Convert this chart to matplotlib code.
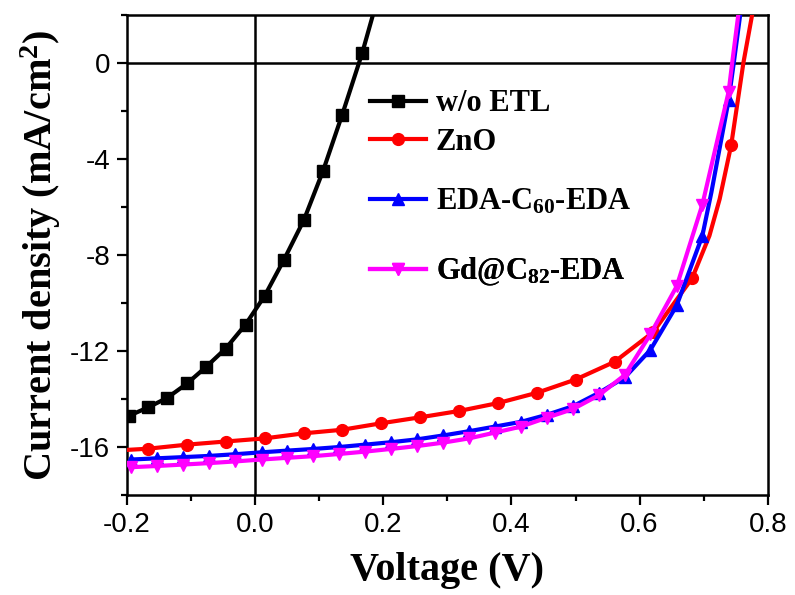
import matplotlib
matplotlib.use("Agg")
import matplotlib.pyplot as plt
from matplotlib.ticker import MultipleLocator

# J-V data (V in volts, J in mA/cm2)
# w/o ETL: marker points
bare_v = [-0.197, -0.167, -0.137, -0.106, -0.076, -0.046, -0.015, 0.015, 0.045, 0.076, 0.106, 0.136, 0.167]
bare_j = [-14.70, -14.35, -13.95, -13.35, -12.65, -11.90, -10.90, -9.70, -8.20, -6.55, -4.50, -2.15, 0.40]
# line only points (no marker)
bare_line_v = [0.186]
bare_line_j = [2.2]

# ZnO
zno_v = [-0.167, -0.106, -0.046, 0.015, 0.076, 0.136, 0.197, 0.258, 0.318, 0.379, 0.440, 0.500, 0.561, 0.621, 0.682, 0.743]
zno_j = [-16.07, -15.90, -15.77, -15.64, -15.43, -15.28, -15.01, -14.76, -14.50, -14.17, -13.74, -13.19, -12.45, -11.22, -8.97, -3.42]
zno_line_v = [-0.200, 0.709, 0.725, 0.762, 0.777]
zno_line_j = [-16.12, -7.20, -5.67, 0.00, 2.20]

# EDA-C60-EDA and Gd@C82-EDA share the same voltage points
grid_v = [-0.193, -0.153, -0.112, -0.072, -0.031, 0.010, 0.050, 0.091, 0.131, 0.172, 0.212, 0.253,
          0.293, 0.334, 0.374, 0.415, 0.455, 0.496, 0.536, 0.577, 0.617, 0.658, 0.698, 0.739]
eda_j = [-16.52, -16.47, -16.42, -16.37, -16.30, -16.22, -16.15, -16.08, -16.00, -15.90, -15.80, -15.68,
         -15.52, -15.34, -15.15, -14.95, -14.66, -14.30, -13.75, -13.10, -11.95, -10.10, -7.20, -1.55]
eda_line_v = [0.712, 0.747, 0.758]
eda_line_j = [-5.40, 0.00, 2.20]

gd_j = [-16.84, -16.79, -16.73, -16.67, -16.60, -16.52, -16.45, -16.38, -16.29, -16.19, -16.08, -15.96,
        -15.82, -15.64, -15.40, -15.15, -14.78, -14.42, -13.85, -13.00, -11.30, -9.30, -5.90, -1.20]
gd_line_v = [0.7445, 0.755]
gd_line_j = [0.00, 2.20]

labels = ['w/o ETL', 'ZnO', r'EDA-C$_{60}$-EDA', r'Gd@C$_{82}$-EDA']
colors = ['black', 'red', 'blue', 'magenta']
markers = ['s', 'o', '^', 'v']

plt.rcParams['axes.unicode_minus'] = False
plt.rcParams['mathtext.fontset'] = 'custom'
plt.rcParams['mathtext.rm'] = 'Liberation Serif:bold'
plt.rcParams['mathtext.it'] = 'Liberation Serif:bold'
plt.rcParams['mathtext.bf'] = 'Liberation Serif:bold'

fig = plt.figure(figsize=(7.95, 5.95), dpi=100)
ax = fig.add_axes([0.1597, 0.168, 0.806, 0.807])

ax.axhline(0, color='black', lw=1.8, zorder=1)
ax.axvline(0, color='black', lw=1.8, zorder=1)

series = [
    (bare_v, bare_j, bare_line_v, bare_line_j),
    (zno_v, zno_j, zno_line_v, zno_line_j),
    (grid_v, eda_j, eda_line_v, eda_line_j),
    (grid_v, gd_j, gd_line_v, gd_line_j),
]

lines = []
for (mv, mj, lv, lj), lab, c, m in zip(series, labels, colors, markers):
    pts = sorted([(v, j, True) for v, j in zip(mv, mj)] + [(v, j, False) for v, j in zip(lv, lj)])
    xs = [p[0] for p in pts]
    ys = [p[1] for p in pts]
    every = [i for i, p in enumerate(pts) if p[2]]
    ln, = ax.plot(xs, ys, color=c, lw=3.0, marker=m, ms=8.5, markevery=every, label=lab, zorder=3)
    lines.append(ln)

ax.set_xlim(-0.2, 0.8)
ax.set_ylim(-18, 2)
ax.xaxis.set_minor_locator(MultipleLocator(0.1))
ax.yaxis.set_minor_locator(MultipleLocator(2))
ax.set_xticks([-0.2, 0.0, 0.2, 0.4, 0.6, 0.8])
ax.set_xticklabels(['-0.2', '0.0', '0.2', '0.4', '0.6', '0.8'])
ax.set_yticks([-16, -12, -8, -4, 0])
ax.set_yticklabels(['-16', '-12', '-8', '-4', '0'])

ax.tick_params(which='both', direction='out', top=False, right=False, width=1.6)
ax.tick_params(which='major', length=7, labelsize=20, pad=5)
ax.tick_params(which='minor', length=4)
for lab in ax.get_xticklabels() + ax.get_yticklabels():
    lab.set_family('Liberation Sans')
for sp in ax.spines.values():
    sp.set_linewidth(1.8)

ax.set_xlabel('Voltage (V)', family='Liberation Serif', weight='bold', fontsize=29)
ax.set_ylabel('Current density (mA/cm$^{2}$)', family='Liberation Serif', weight='bold', fontsize=29)
ax.xaxis.set_label_coords(0.5, -0.118)
ax.yaxis.set_label_coords(-0.10, 0.5)

# one legend per entry so the rows sit where they do in the original
legend_y = [0.815, 0.734, 0.610, 0.465]
for ln, y in zip(lines, legend_y):
    leg = ax.legend(handles=[ln], loc='center left', bbox_to_anchor=(0.379, y), frameon=False,
                    prop={'family': 'Liberation Serif', 'weight': 'bold', 'size': 22},
                    handlelength=1.85, handletextpad=0.3, borderpad=0, borderaxespad=0)
    ax.add_artist(leg)

fig.savefig('out.png', dpi=100)
